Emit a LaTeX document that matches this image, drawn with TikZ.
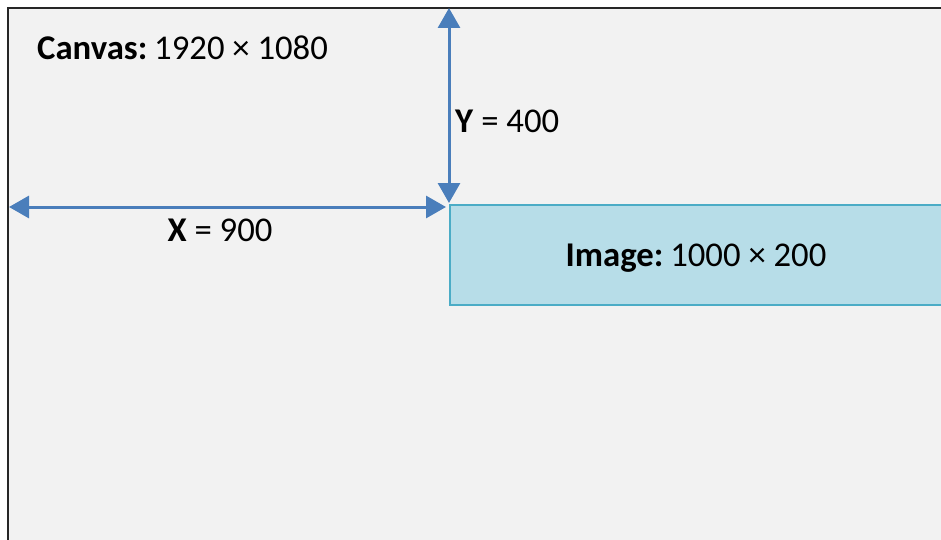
\documentclass[tikz,border=0pt]{standalone}
\usepackage{fontspec}
\setmainfont{Carlito}
\usetikzlibrary{arrows.meta}
\definecolor{canvasfill}{HTML}{F2F2F2}
\definecolor{canvasline}{HTML}{262626}
\definecolor{arrowblue}{HTML}{4A7EBB}
\definecolor{imgfill}{HTML}{B7DDE8}
\definecolor{imgline}{HTML}{4BACC6}
\tikzset{
  dimarrow/.style={draw=arrowblue, line width=3pt, {Triangle[length=20pt,width=22pt]}-{Triangle[length=20pt,width=22pt]}},
  lbl/.style={inner sep=0pt, font=\fontsize{34.7}{40}\selectfont, text=black},
}
\begin{document}
\begin{tikzpicture}[x=1pt,y=-1pt]
\useasboundingbox (0,0) rectangle (941,540);
% canvas
\fill[canvasfill] (8,8) rectangle (945,545);
\draw[canvasline, line width=2.6pt] (8,545) -- (8,8) -- (945,8);
% image rectangle
\node[draw=imgline, fill=imgfill, line width=1.6pt, minimum width=520pt, minimum height=100pt, anchor=north west, inner sep=0pt] (img) at (449,204) {};
\node[lbl] (imgtxt) at (696,258) {\textbf{Image:}\hspace{0.2em}1000 \texttimes{} 200};
% coordinates
\coordinate (ytop) at (449,8);
\coordinate (ybot) at (449,203);
\coordinate (xleft) at (9,207);
\coordinate (xright) at (446,207);
\draw[dimarrow] (ytop) -- (ybot);
\draw[dimarrow] (xleft) -- (xright);
% labels
\node[lbl, anchor=west] (canvastxt) at (37,48) {\textbf{Canvas:}\hspace{0.2em}1920 \texttimes{} 1080};
\node[lbl, anchor=west] (ytxt) at (455,121) {\textbf{Y} = 400};
\node[lbl] (xtxt) at (220,230) {\textbf{X} = 900};
\end{tikzpicture}
\end{document}
